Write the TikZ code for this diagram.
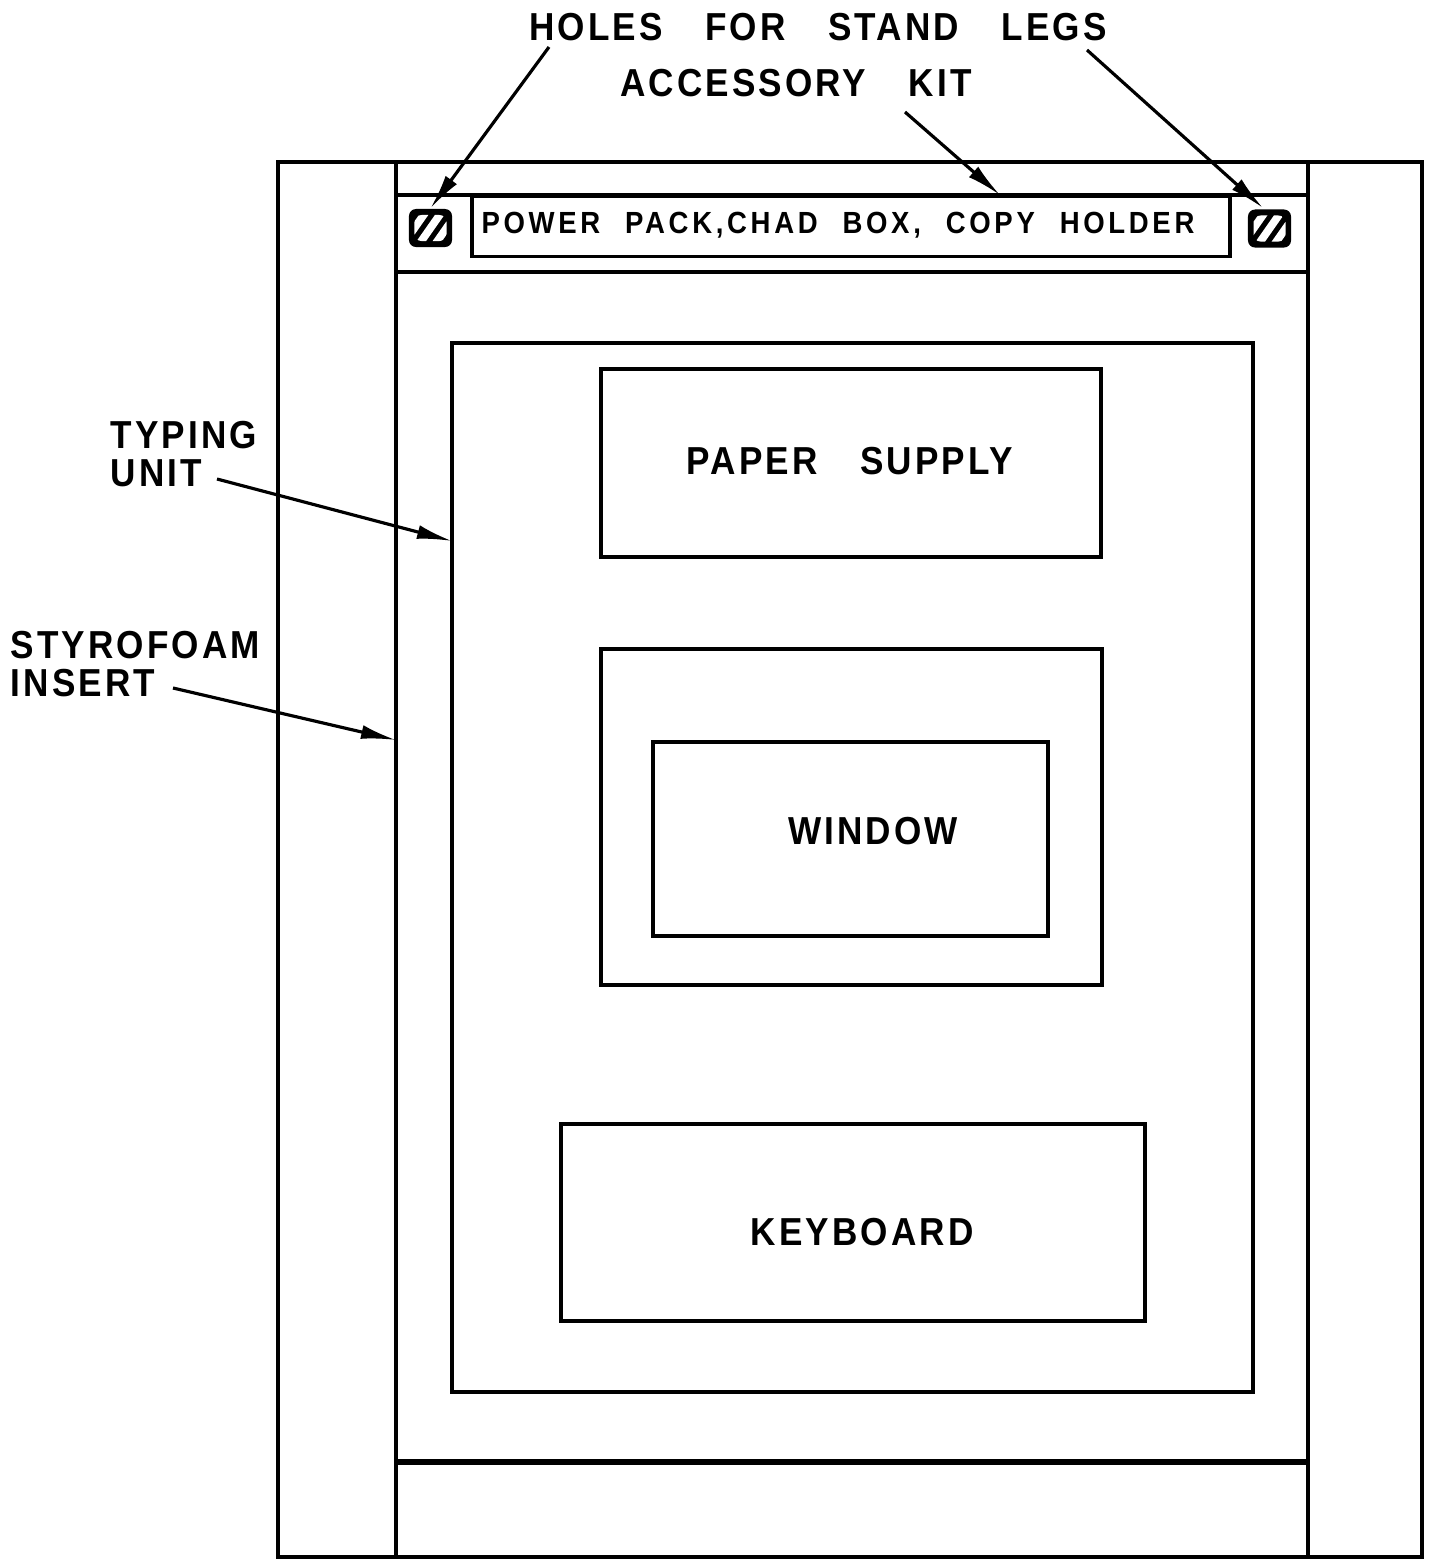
\documentclass[tikz,border=0pt]{standalone}
\usepackage{fontspec}
\newfontfamily\lettering[FakeStretch=0.9, LetterSpace=8, WordSpace=3.3]{Liberation Sans}
\newfontfamily\kitlettering[FakeStretch=0.9, LetterSpace=12, WordSpace=2.2]{Liberation Sans}
\usetikzlibrary{arrows.meta}

\begin{document}
\begin{tikzpicture}[
  x=0.01cm, y=-0.01cm,
  font=\lettering\bfseries\fontsize{11.1}{10.8}\selectfont,
  part/.style={draw, line width=1.1pt, inner sep=0pt},
  lbl/.style={inner sep=0pt, align=left},
  arrow/.style={-{Latex[length=3.5mm, width=1.4mm]}, line width=0.9pt},
  hole/.style={fill=black, rounded corners=2pt, inner sep=0pt,
    minimum width=4.3mm, minimum height=3.8mm,
    path picture={
      \clip ([shift={(-1.6mm,-1.3mm)}]path picture bounding box.center)
        rectangle ([shift={(1.6mm,1.3mm)}]path picture bounding box.center);
      \foreach \d in {-1.6,0,1.6}
        \draw[white, line width=2.2pt]
          ([shift={(\d mm-1.4mm,-2mm)}]path picture bounding box.center)
          -- ([shift={(\d mm+1.4mm,2mm)}]path picture bounding box.center);
    }}
]
\useasboundingbox (0,0) rectangle (1433,1560);

% crate outline and styrofoam strips
\draw[line width=1.1pt] (278,162) rectangle (1422,1557);
\draw[line width=1.1pt] (396,162) -- (396,1557);
\draw[line width=1.1pt] (1308,162) -- (1308,1557);
\draw[line width=1.1pt] (396,195) -- (1308,195);
\draw[line width=1.1pt] (396,272) -- (1308,272);
\draw[line width=1.6pt] (396,1462) -- (1308,1462);

% accessory compartment
\node[hole] (holeL) at (430.5,228) {};
\node[hole] (holeR) at (1269.5,228.5) {};
\node[part, minimum width=7.58cm, minimum height=0.6cm] (kit) at (851,226.5) {};
\node[lbl, font=\kitlettering\bfseries\fontsize{8.7}{10}\selectfont] (kitTxt) at (838,225) {POWER PACK,CHAD BOX, COPY HOLDER};

% typing unit
\node[part, minimum width=8.01cm, minimum height=10.49cm] (typing) at (852.5,867.5) {};
\node[part, minimum width=5cm, minimum height=1.88cm] (paper) at (851,463) {};
\node[lbl] (paperTxt) at (850,461) {PAPER SUPPLY};
\node[part, minimum width=5.01cm, minimum height=3.36cm] (winFrame) at (851.5,817) {};
\node[part, minimum width=3.95cm, minimum height=1.94cm] (window) at (850.5,839) {};
\node[lbl] (windowTxt) at (873,831) {WINDOW};
\node[part, minimum width=5.84cm, minimum height=1.97cm] (keyboard) at (853,1222.5) {};
\node[lbl] (keyboardTxt) at (862,1232) {KEYBOARD};

% callouts
\node[lbl] (holesLbl) at (818,27) {HOLES FOR STAND LEGS};
\node[lbl] (accLbl) at (796,83) {ACCESSORY KIT};
\node[lbl, anchor=north west] (tuLbl) at (110,421) {TYPING\\UNIT};
\node[lbl, anchor=north west] (foamLbl) at (10,631) {STYROFOAM\\INSERT};

\coordinate (holesTailL) at (549,47);
\coordinate (holesTailR) at (1087,50);
\coordinate (holeTipR) at (1263,208);
\coordinate (accTail) at (905,112);
\coordinate (accTip) at (1000,195);
\coordinate (tuTail) at (217,479);
\coordinate (tuTip) at (452,541);
\coordinate (foamTail) at (173,688);
\coordinate (foamTip) at (396,740);

\draw[arrow] (holesTailL) -- (holeL.north);
\draw[arrow] (holesTailR) -- (holeTipR);
\draw[arrow] (accTail) -- (accTip);
\draw[arrow] (tuTail) -- (tuTip);
\draw[arrow] (foamTail) -- (foamTip);
\end{tikzpicture}
\end{document}
